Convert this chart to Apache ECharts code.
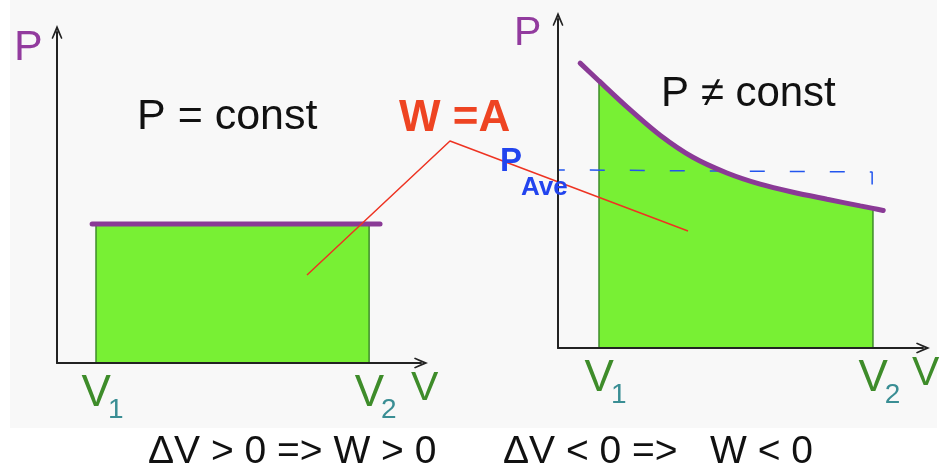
<!DOCTYPE html>
<html>
<head>
<meta charset="utf-8">
<script src="https://cdn.jsdelivr.net/npm/echarts@6/dist/echarts.min.js"></script>
<style>
html,body{margin:0;padding:0;background:#fff;}
#chart{width:947px;height:471px;}
</style>
</head>
<body>
<div id="chart"></div>
<script>
// ---------- data ----------
// Left diagram: P = const between V1 and V2
const leftVolumes = [1, 8];            // V1, V2
const leftSubs = ['1', '2'];           // tick label subscripts
const leftPressure = 4;                // constant P
const leftLineX = [0.9, 8.28];         // extent of drawn isobar

// Right diagram: P != const
const rightVolumes = [1, 7.68];        // V1, V2
const rightSubs = ['1', '2'];
const curveV = [0.54, 1.0, 1.68, 2.49, 3.29, 4.12, 4.93, 5.73, 6.56, 7.37, 7.68, 7.93];
const curveP = [8.14, 7.63, 6.89, 6.08, 5.45, 5.00, 4.68, 4.45, 4.25, 4.06, 3.99, 3.93];
const avgV = [-0.2, 7.66, 7.66];       // dashed average-pressure guide
const avgP = [5.09, 5.03, 4.5];

// Pointer line from "W = A" label to both areas (overlay coordinates)
const pointerX = [307, 450, 688];
const pointerY = [275, 141, 231];

// ---------- build ----------
const purple = '#8a3a96';
const green = '#78f034';
const edge = '#3e8c2a';
const vGreen = '#3e8c2a';
const teal = '#3a8e94';
const chevron = 'path://M5,0 L10,12 L8.8,12.8 L5,4.5 L1.2,12.8 L0,12 Z';

const zip = (a, b) => a.map((v, i) => [v, b[i]]);
const curveData = zip(curveV, curveP);
const rightArea = curveData.filter(d => d[0] >= rightVolumes[0] - 1e-9 && d[0] <= rightVolumes[1] + 1e-9);
const pAt = v => { const i = curveV.indexOf(v); return curveP[i]; };
const font = 'Liberation Sans, Arial, sans-serif';

function volAxis(gridIndex, max, vols, subs) {
  return {
    type: 'value', gridIndex, min: 0, max, z: 10,
    splitLine: {show: false}, axisTick: {show: false},
    axisLine: {show: true, onZero: false, symbol: ['none', chevron], symbolSize: [12, 14],
      lineStyle: {color: '#222', width: 2}},
    axisLabel: {
      show: true, customValues: vols, margin: 9,
      formatter: v => '{v|V}{s|' + subs[vols.indexOf(v)] + '}',
      rich: {
        v: {fontSize: 44, lineHeight: 44, verticalAlign: 'top', color: vGreen,
            fontFamily: font, padding: [0, 0, 0, 13]},
        s: {fontSize: 28, lineHeight: 28, color: teal, padding: [33, 0, 0, -3],
            fontFamily: font}
      }
    }
  };
}
function presAxis(gridIndex, max) {
  return {
    type: 'value', gridIndex, min: 0, max, z: 10,
    splitLine: {show: false}, axisTick: {show: false}, axisLabel: {show: false},
    axisLine: {show: true, onZero: false, symbol: ['none', chevron], symbolSize: [12, 14],
      lineStyle: {color: '#222', width: 2}}
  };
}

function txt(x, y, text, size, color, weight) {
  return {type: 'text', x, y, z: 50,
    style: {text, fontSize: size, fill: color, fontFamily: font, fontWeight: weight || 'normal',
      verticalAlign: 'middle', align: 'left'}};
}

const option = {
  backgroundColor: '#ffffff',
  animation: false,
  grid: [
    {left: 57, top: 32, width: 364, height: 331},
    {left: 558, top: 19, width: 365, height: 329},
    {left: 0, top: 0, width: 947, height: 471}
  ],
  xAxis: [
    volAxis(0, 9.33, leftVolumes, leftSubs),
    volAxis(1, 8.9, rightVolumes, rightSubs),
    {type: 'value', gridIndex: 2, min: 0, max: 947, show: false}
  ],
  yAxis: [
    presAxis(0, 9.53),
    presAxis(1, 9.4),
    {type: 'value', gridIndex: 2, min: 0, max: 471, inverse: true, show: false}
  ],
  graphic: [
    {type: 'rect', z: -100, silent: true, shape: {x: 10, y: 0, width: 927, height: 428}, style: {fill: '#f8f8f8'}},
    txt(14, 48, 'P', 43, '#923b9e'),
    txt(514, 34, 'P', 41, '#923b9e'),
    txt(411, 389, 'V', 41, vGreen),
    txt(912, 374, 'V', 41, vGreen),
    txt(137, 117, 'P = const', 43, '#111'),
    txt(661, 94, 'P \u2260 const', 42, '#111'),
    txt(399, 119, 'W =A', 44, '#ee4422', 'bold'),
    txt(500, 162, 'P', 33, '#2244ee', 'bold'),
    txt(521, 188, 'Ave', 26, '#2244ee', 'bold'),
    txt(148, 452, '\u0394V > 0 => W > 0', 39, '#111'),
    txt(503, 452, '\u0394V < 0 =>   W < 0', 39, '#111')
  ],
  series: [
    // left: area under isobar
    {type: 'line', xAxisIndex: 0, yAxisIndex: 0, z: 2, symbol: 'none',
     data: leftVolumes.map(v => [v, leftPressure]),
     lineStyle: {width: 0}, areaStyle: {color: green, opacity: 1}},
    // left: side edges
    ...leftVolumes.map(v => ({type: 'line', xAxisIndex: 0, yAxisIndex: 0, z: 3, symbol: 'none',
     data: [[v, 0], [v, leftPressure]], lineStyle: {color: edge, width: 1.5}})),
    // left: isobar
    {type: 'line', xAxisIndex: 0, yAxisIndex: 0, z: 4, symbol: 'none',
     data: leftLineX.map(v => [v, leftPressure]),
     lineStyle: {color: purple, width: 5, cap: 'round'}},

    // right: area under curve
    {type: 'line', xAxisIndex: 1, yAxisIndex: 1, z: 2, symbol: 'none', smooth: 0.3,
     data: rightArea, lineStyle: {width: 0}, areaStyle: {color: green, opacity: 1}},
    ...rightVolumes.map(v => ({type: 'line', xAxisIndex: 1, yAxisIndex: 1, z: 3, symbol: 'none',
     data: [[v, 0], [v, pAt(v)]], lineStyle: {color: edge, width: 1.5}})),
    // right: dashed average pressure
    {type: 'line', xAxisIndex: 1, yAxisIndex: 1, z: 4, symbol: 'none', clip: false,
     data: zip(avgV, avgP), lineStyle: {color: '#2255ee', width: 1.5, type: [15, 25]}},
    // right: curve
    {type: 'line', xAxisIndex: 1, yAxisIndex: 1, z: 5, symbol: 'none', smooth: 0.3, clip: false,
     data: curveData, lineStyle: {color: purple, width: 5, cap: 'round'}},

    // pointer
    {type: 'line', xAxisIndex: 2, yAxisIndex: 2, z: 6, symbol: 'none',
     data: zip(pointerX, pointerY), lineStyle: {color: '#ee3322', width: 1.5}}
  ]
};

const chart = echarts.init(document.getElementById('chart'), null, {renderer: 'canvas'});
chart.setOption(option);
</script>
</body>
</html>
